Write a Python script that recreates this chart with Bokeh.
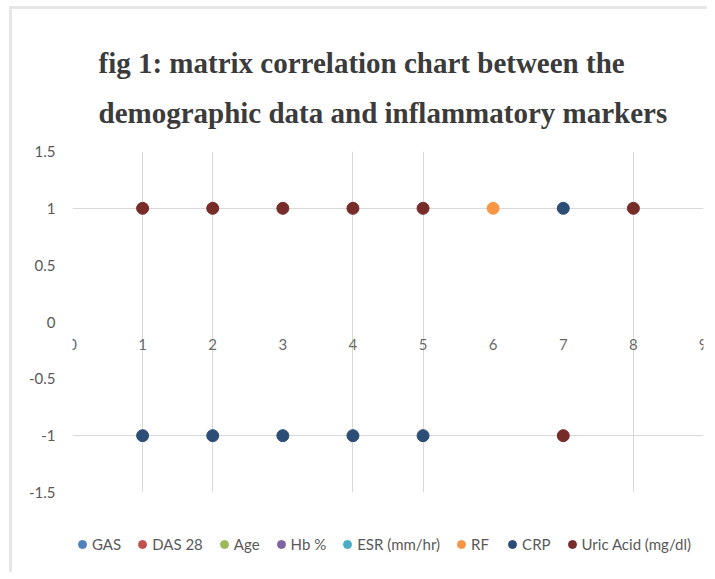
from bokeh.plotting import figure
from bokeh.layouts import column
from bokeh.models import FixedTicker, Legend, LegendItem, Label, Range1d
from bokeh.embed import file_html
from bokeh.resources import INLINE

# ---- data ----
series_names = ["GAS", "DAS 28", "Age", "Hb %", "ESR (mm/hr)", "RF", "CRP", "Uric Acid (mg/dl)"]
series_colors = ["#4F81BD", "#C0504D", "#9BBB59", "#8064A2", "#4BACC6", "#F79646", "#2C4D75", "#772C2A"]

gas_x, gas_y = [], []
das28_x, das28_y = [], []
age_x, age_y = [], []
hb_x, hb_y = [], []
esr_x, esr_y = [], []
rf_x, rf_y = [6], [1]
crp_x, crp_y = [1, 2, 3, 4, 5, 7], [-1, -1, -1, -1, -1, 1]
uric_x, uric_y = [1, 2, 3, 4, 5, 7, 8], [1, 1, 1, 1, 1, -1, 1]

series_x = [gas_x, das28_x, age_x, hb_x, esr_x, rf_x, crp_x, uric_x]
series_y = [gas_y, das28_y, age_y, hb_y, esr_y, rf_y, crp_y, uric_y]

x_ticks = [0, 1, 2, 3, 4, 5, 6, 7, 8, 9]
x_tick_labels = ["0", "1", "2", "3", "4", "5", "6", "7", "8", "9"]
y_ticks = [-1.5, -1, -0.5, 0, 0.5, 1, 1.5]
y_tick_labels = ["-1.5", "-1", "-0.5", "0", "0.5", "1", "1.5"]

title_lines = ["fig 1: matrix correlation chart between the",
               "demographic data and inflammatory markers"]

BORDER_L, BORDER_R = 60, 4
STRIP_W = BORDER_L + 631 + BORDER_R


def strip(height):
    f = figure(width=STRIP_W, height=height, output_backend="svg", toolbar_location=None,
               x_axis_location=None, y_axis_location=None,
               x_range=Range1d(start=0, end=1), y_range=Range1d(start=0, end=1),
               min_border_left=BORDER_L, min_border_right=BORDER_R,
               min_border_top=0, min_border_bottom=0)
    f.grid.visible = False
    f.outline_line_color = None
    f.border_fill_color = "white"
    f.background_fill_color = "white"
    return f


# ---- title strip ----
tf = strip(130)
for txt, ypos in zip(title_lines, (77, 27)):
    tf.add_layout(Label(x=26, y=ypos, x_units="screen", y_units="screen", text=txt,
                        text_align="left", text_baseline="middle",
                        text_font="Liberation Serif", text_font_size="29px",
                        text_font_style="bold", text_color="#3b3b3b"))

# ---- main figure ----
p = figure(frame_width=631, frame_height=341, output_backend="svg", toolbar_location=None,
           title=None,
           x_range=Range1d(start=x_ticks[0], end=x_ticks[-1]),
           y_range=Range1d(start=y_ticks[0], end=y_ticks[-1]),
           min_border_left=BORDER_L, min_border_right=BORDER_R,
           min_border_top=12, min_border_bottom=40)
p.outline_line_color = None
p.background_fill_color = "white"
p.border_fill_color = "white"

# grids
GRID_X = [1, 2, 4, 5, 8, 9]
GRID_Y = [-1.5, -1, 1, 1.5]
p.xgrid.ticker = FixedTicker(ticks=GRID_X)
p.ygrid.ticker = FixedTicker(ticks=GRID_Y)
p.grid.grid_line_color = "#d9d9d9"
p.grid.grid_line_width = 1

# axes (horizontal axis crosses at y = 0)
p.xaxis.ticker = FixedTicker(ticks=x_ticks)
p.xaxis.major_label_overrides = {t: l for t, l in zip(x_ticks, x_tick_labels)}
p.xaxis.fixed_location = 0
p.yaxis.ticker = FixedTicker(ticks=y_ticks)
p.yaxis.major_label_overrides = {t: l for t, l in zip(y_ticks, y_tick_labels)}
for ax in (p.xaxis[0], p.yaxis[0]):
    ax.axis_line_color = None
    ax.major_tick_line_color = None
    ax.minor_tick_line_color = None
    ax.major_tick_out = 0
    ax.major_tick_in = 0
    ax.minor_tick_out = 0
    ax.major_label_text_font = "Lato"
    ax.major_label_text_font_size = "15px"
p.yaxis.major_label_text_color = "#595959"
p.xaxis.major_label_text_color = "#6a6a6a"
p.yaxis.major_label_standoff = 17
p.xaxis.major_label_standoff = 17

# series
for name, color, xs, ys in zip(series_names, series_colors, series_x, series_y):
    p.scatter(xs, ys, size=12, marker="circle", fill_color=color, line_color=color)

# ---- legend strip ----
lf = strip(40)
items = []
for name, color in zip(series_names, series_colors):
    swatch = lf.scatter([float("nan")], [float("nan")], size=12, marker="circle",
                        fill_color=color, line_color=color)
    items.append(LegendItem(label=name, renderers=[swatch]))

legend = Legend(items=items, orientation="horizontal", location=(0, 18),
                border_line_color=None, background_fill_alpha=0,
                label_text_font="Lato", label_text_font_size="15px", label_text_color="#595959",
                glyph_width=20, glyph_height=20, label_standoff=0, spacing=11,
                padding=0, margin=0)
lf.add_layout(legend, "center")

layout = column(tf, p, lf, spacing=0,
                styles={"border-top": "3px solid #e6e6e6", "border-left": "3px solid #e6e6e6",
                        "margin-top": "6px", "margin-left": "9px"})

open("out.html", "w").write(file_html(layout, INLINE))
